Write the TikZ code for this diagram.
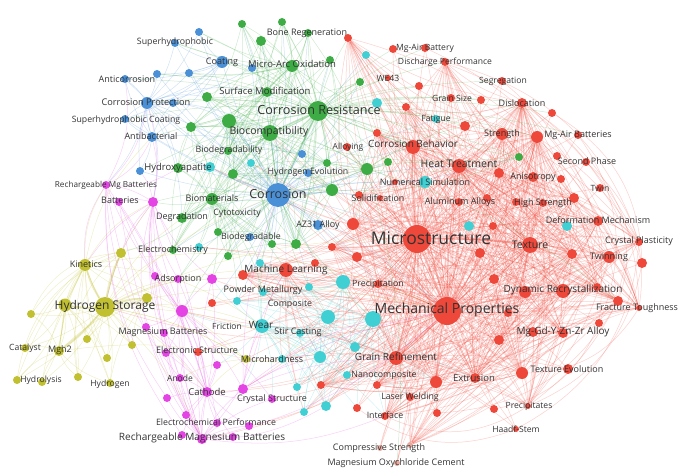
\documentclass[tikz,border=0pt]{standalone}
\usepackage{fontspec}
\setmainfont{Open Sans}
\usetikzlibrary{backgrounds}
\definecolor{vred}{RGB}{238,72,58}
\definecolor{vgreen}{RGB}{62,172,68}
\definecolor{vblue}{RGB}{74,144,214}
\definecolor{vyel}{RGB}{192,192,48}
\definecolor{vmag}{RGB}{228,68,228}
\definecolor{vcyan}{RGB}{64,208,212}
\definecolor{vfade}{RGB}{232,170,160}
\tikzset{
  dot/.style={circle, inner sep=0pt, fill=#1, draw=none},
  e/.style={draw=#1, opacity=0.25, line width=0.5pt},
  thick edge/.style={draw=#1, opacity=0.35, line width=1.6pt},
  lab/.style={inner sep=0pt, text=black!80, font=\fontsize{#1pt}{#1pt}\selectfont}
}
\begin{document}
\begin{tikzpicture}[x=1pt,y=-1pt]
\useasboundingbox (0,0) rectangle (693,473);
% ---------- red nodes
\foreach \n/\x/\y/\d in {
1/417/239/28, 2/447/311/28, 3/530/245/16, 4/563/291/14, 5/525/292/12, 6/597/287/8,
7/563/333/10, 8/533/332/10, 9/499/340/10, 10/522/373/12, 11/568/369/10, 12/475/378/10,
13/436/382/12, 14/396/358/14, 15/377/385/8, 16/410/397/8, 17/357/408/8, 18/385/416/8,
19/437/413/8, 20/494/409/8, 21/528/406/6, 22/516/429/6, 26/618/301/10,
27/639/308/6, 28/599/323/8, 29/508/313/8, 30/639/242/8, 31/609/257/12, 32/642/263/10,
33/572/254/10, 34/480/253/10, 35/494/279/10, 36/378/284/8, 37/357/257/10, 38/598/221/10,
39/493/226/8, 40/600/188/8, 41/574/198/10, 42/543/203/8, 43/516/202/8, 44/459/202/8,
45/487/198/8, 46/533/177/10, 47/561/179/8, 48/499/173/10, 49/557/156/8, 50/586/162/8,
51/459/166/14, 52/413/147/14, 53/347/147/8, 54/377/133/8, 55/465/126/10, 56/502/134/12,
57/537/137/12, 58/578/135/8, 59/552/113/8, 60/522/103/10, 61/481/100/8, 62/451/98/8,
63/406/107/8, 64/419/86/8, 65/502/81/8, 66/445/62/8, 67/393/49/8, 68/425/48/8,
69/348/38/8, 70/388/78/6, 71/395/182/6, 72/359/195/8, 73/380/198/6, 74/353/224/12,
75/332/247/8, 76/315/263/8, 77/286/270/14, 78/243/275/10, 79/212/303/8, 80/198/352/8,
81/321/385/8}
  \node[dot=vred, minimum size=\d*1pt] (r\n) at (\x,\y) {};
\foreach \n/\x/\y/\d in {23/380/448/6, 24/410/445/6, 25/397/463/6}
  \node[dot=vfade, minimum size=\d*1pt] (r\n) at (\x,\y) {};
% ---------- green nodes
\foreach \n/\x/\y/\d in {
1/318/111/20, 2/270/133/16, 3/267/92/10, 4/207/97/10, 5/292/66/12, 6/242/24/8,
7/282/22/8, 8/308/33/8, 9/261/41/10, 10/330/60/8, 11/229/121/14, 12/191/127/10,
13/228/151/8, 14/327/163/8, 15/178/168/10, 16/233/174/10, 17/332/190/12, 18/212/199/12,
19/182/218/10, 20/218/232/8, 21/272/244/8, 22/296/244/10, 23/228/256/8, 24/173/250/8,
25/367/169/12, 26/388/162/8, 27/360/82/8, 28/519/157/8}
  \node[dot=vgreen, minimum size=\d*1pt] (g\n) at (\x,\y) {};
% ---------- blue nodes
\foreach \n/\x/\y/\d in {
1/278/195/24, 2/222/62/12, 3/175/43/8, 4/199/32/8, 5/252/68/8, 6/157/74/8,
7/189/73/8, 8/125/79/8, 9/147/103/12, 10/173/103/8, 11/125/119/8, 12/152/137/10,
13/302/154/8, 14/140/171/8, 15/308/173/8, 16/318/225/10, 17/250/237/8}
  \node[dot=vblue, minimum size=\d*1pt] (b\n) at (\x,\y) {};
% ---------- cyan nodes
\foreach \n/\x/\y/\d in {
1/373/319/16, 2/343/282/14, 3/328/317/14, 4/262/326/14, 5/300/333/8, 6/355/347/10,
7/320/357/12, 8/282/359/8, 9/347/375/8, 10/297/387/8, 11/326/406/10, 12/304/412/8,
13/237/301/8, 14/260/263/8, 15/309/287/8, 16/263/292/8, 17/425/182/12, 18/436/119/8,
19/377/103/10, 20/366/55/8, 21/251/163/8, 22/210/167/10, 23/199/247/8, 24/469/226/10,
25/567/226/10}
  \node[dot=vcyan, minimum size=\d*1pt] (c\n) at (\x,\y) {};
% ---------- magenta nodes
\foreach \n/\x/\y/\d in {
1/106/185/8, 2/119/202/8, 3/153/202/10, 4/155/276/8, 5/178/279/8, 6/212/279/10,
7/182/311/12, 8/146/327/8, 9/164/333/8, 10/166/353/8, 11/217/365/8, 12/180/378/8,
13/167/398/8, 14/207/392/10, 15/243/389/10, 16/272/399/8, 17/186/415/8, 18/217/423/8,
19/249/426/8, 20/182/435/8, 21/202/439/10, 22/233/437/8}
  \node[dot=vmag, minimum size=\d*1pt] (m\n) at (\x,\y) {};
% ---------- yellow nodes
\foreach \n/\x/\y/\d in {
1/105/307/20, 2/65/305/13, 3/147/298/10, 4/85/265/12, 5/121/253/10, 6/31/314/8,
7/87/339/8, 8/132/345/8, 9/25/348/8, 10/59/351/10, 11/107/358/8, 12/78/377/8,
13/17/380/8, 14/42/382/8, 15/110/383/8, 16/246/359/8}
  \node[dot=vyel, minimum size=\d*1pt] (y\n) at (\x,\y) {};

% ---------- edges
\begin{scope}[on background layer]
 % red
 \draw[thick edge=vred] (r1) -- (r2);
 \foreach \t in {r3,r4,r14,r52,r51} \draw[thick edge=vred, line width=1pt] (r2) to[bend left=4] (\t);
 \foreach \t in {r3,r52,r51,r14} \draw[thick edge=vred, line width=1pt] (r1) to[bend left=4] (\t);
 \foreach \i in {3,...,81} {
   \draw[e=vred] (r1) to[bend left=6] (r\i);
   \draw[e=vred] (r2) to[bend right=6] (r\i);
 }
 \foreach \s in {3,4,14,51,52,56,57,12,10,31,7,33,38,46,5,60,41,26,13,74} {
   \foreach \i in {3,...,81} {
     \pgfmathtruncatemacro\k{mod(\i*7+\s*3,3)}
     \ifnum\k=0 \ifnum\i=\s\else \draw[e=vred] (r\s) to[bend left=12] (r\i); \fi\fi
   }
 }
 \foreach \a/\b in {69/27, 67/32, 65/28, 66/30, 68/26, 60/27, 59/32, 58/28, 50/27, 40/26,
   30/22, 32/21, 27/10, 28/20, 26/19, 23/13, 25/12, 24/10, 22/17, 21/18}
   \draw[e=vred] (r\a) to[bend left=28] (r\b);
 \foreach \i in {1,...,25} {
   \draw[e=vred] (r1) to[bend left=8] (c\i);
   \draw[e=vred] (r2) to[bend right=8] (c\i);
 }
 \foreach \t in {g1,g2,g17,g25,g26,g14,b1,b16,b15,g22,g21,m6,m7,y16,m15} {
   \draw[e=vred] (r1) to[bend left=8] (\t);
   \draw[e=vred] (r2) to[bend left=12] (\t);
 }
 \foreach \i in {6,...,22} \draw[e=vred] (r14) to[bend left=8] (r\i);
 \foreach \i in {1,...,12} \draw[e=vred] (r14) to[bend right=8] (c\i);
 \foreach \i in {1,...,16} \draw[e=vred] (r77) to[bend right=8] (c\i);
 \foreach \t in {m14,m21,m16,m19,y1,m7} \draw[e=vred] (r2) to[bend left=16] (\t);
 % green / blue
 \draw[thick edge=vgreen] (g1) -- (b1);
 \draw[thick edge=vgreen] (g1) -- (g2);
 \draw[thick edge=vgreen, line width=1pt] (g2) -- (b1);
 \draw[thick edge=vgreen, line width=1pt] (g1) -- (r52);
 \foreach \i in {53,54,72,73,74,75,76,77,78,36,37,52,51,1,2,71,79} \draw[e=vblue] (b1) to[bend left=6] (r\i);
 \foreach \i in {51,...,70} \draw[e=vgreen] (g1) to[bend left=8] (r\i);
 \foreach \i in {2,...,28} {
   \draw[e=vgreen] (g1) to[bend left=6] (g\i);
   \draw[e=vblue] (b1) to[bend right=6] (g\i);
 }
 \foreach \s in {3,5,11,16,17,18,22,25,12,14} {
   \foreach \i in {2,...,28} {
     \pgfmathtruncatemacro\k{mod(\i*5+\s*2,3)}
     \ifnum\k=0 \ifnum\i=\s\else \draw[e=vgreen] (g\s) to[bend right=12] (g\i); \fi\fi
   }
 }
 \foreach \i in {3,...,24} \draw[e=vgreen] (g2) to[bend right=6] (g\i);
 \foreach \i in {4,...,13} \draw[e=vgreen] (g3) to[bend left=8] (g\i);
 \foreach \i in {12,...,24} \draw[e=vgreen] (g11) to[bend left=8] (g\i);
 \foreach \i in {15,...,24} {\ifnum\i=18\else \draw[e=vgreen] (g18) to[bend right=8] (g\i);\fi}
 \foreach \i in {6,...,13} \draw[e=vgreen] (g5) to[bend right=10] (g\i);
 \foreach \i in {2,...,7} \draw[e=vgreen] (g5) to[bend left=8] (b\i);
 \foreach \t in {c13,c14,c16,r77,r78,m6,m5,c23,y5,m3} \draw[e=vgreen] (g18) to[bend left=12] (\t);
 \foreach \i in {2,...,17} {
   \draw[e=vblue] (b1) to[bend left=6] (b\i);
   \draw[e=vgreen] (g1) to[bend right=8] (b\i);
 }
 \foreach \i in {3,...,12} \draw[e=vblue] (b2) to[bend left=10] (b\i);
 \foreach \i in {3,...,14} {\ifnum\i=9\else \draw[e=vblue] (b9) to[bend right=10] (b\i);\fi}
 \foreach \i in {8,...,14} {\ifnum\i=12\else \draw[e=vblue] (b12) to[bend left=10] (b\i);\fi}
 \foreach \t in {g11,g12,g4,g3,g2,g15,g19,m1,m3} \draw[e=vblue] (b9) to[bend left=14] (\t);
 \foreach \i in {13,...,23} \draw[e=vblue] (b1) to[bend left=6] (c\i);
 \foreach \t in {m5,m6,m3,m7,c4,c3,c2,c1} \draw[e=vgreen] (b1) to[bend right=10] (\t);
 \foreach \t in {r52,r51,r25,r26,r53,r54,r55,r71,r72,r74} \draw[e=vgreen] (g25) to[bend left=10] (\t);
 % cyan
 \foreach \i in {2,...,16} \draw[e=vcyan] (c1) to[bend left=8] (c\i);
 \foreach \i in {4,...,16} \draw[e=vcyan] (c3) to[bend right=8] (c\i);
 \foreach \i in {5,...,16} \draw[e=vcyan] (c2) to[bend left=10] (c\i);
 \foreach \i in {5,...,16} \draw[e=vcyan] (c4) to[bend left=8] (c\i);
 \foreach \i in {8,...,16} \draw[e=vcyan] (c7) to[bend right=12] (c\i);
 \foreach \t in {m11,m15,m16,m6,m7,r14,r15,r17,r18,r81,r13,r16} \draw[e=vcyan] (c4) to[bend left=10] (\t);
 \foreach \t in {r14,r15,r17,r18,r81,r16,r12,r13} \draw[e=vcyan] (c1) to[bend right=8] (\t);
 % magenta
 \foreach \i in {1,...,20,22} \draw[e=vmag] (m21) to[bend left=10] (m\i);
 \foreach \i in {1,...,13,15,16,17,18,19,20,22} \draw[e=vmag] (m14) to[bend right=8] (m\i);
 \foreach \i in {1,...,6,8,9,10,11,12,15,16,18} \draw[e=vmag] (m7) to[bend left=8] (m\i);
 \foreach \t in {m1,m2,m4,m5,m6,m8,m9,m10,y1,y4,y5,b14,b12,b9,m12} \draw[e=vmag] (m3) to[bend right=12] (\t);
 \foreach \t in {b9,b12,b8,g15,m12,m20,m13,y4} \draw[e=vmag] (m1) to[bend right=18] (\t);
 \foreach \t in {c4,r2,c7,r14,r77,b1,c1} \draw[e=vmag] (m15) to[bend left=10] (\t);
 \foreach \t in {c4,r2,c11,r18} \draw[e=vmag] (m21) to[bend right=14] (\t);
 % yellow
 \foreach \t in {y2,y4,y10,y3,y5} \draw[thick edge=vyel] (y1) to[bend left=6] (\t);
 \draw[thick edge=vyel, line width=1pt] (y2) -- (y10);
 \draw[thick edge=vyel, line width=1pt] (y4) -- (y2);
 \foreach \i in {2,...,16} \draw[e=vyel] (y1) to[bend left=10] (y\i);
 \foreach \i in {2,3,5,6,...,15} \draw[e=vyel] (y4) to[bend right=10] (y\i);
 \foreach \i in {6,...,15} \draw[e=vyel] (y2) to[bend left=12] (y\i);
 \foreach \i in {5,7,8,10,11,15} \draw[e=vyel] (y3) to[bend right=12] (y\i);
 \foreach \i in {6,9,12,13,14,15} \draw[e=vyel] (y10) to[bend right=14] (y\i);
 \foreach \t in {m3,m7,m6,c4,b1,r77,r2,r1,m14,m21,c7,g19,g24,m5} \draw[e=vyel] (y1) to[bend left=12] (\t);
 \foreach \t in {m1,m3,b12,g24,c4,r2} \draw[e=vyel] (y4) to[bend left=16] (\t);
 \foreach \t in {y10,y4,m12,m14,y1,c8,c7} \draw[e=vyel] (y16) to[bend right=10] (\t);
 \foreach \t in {y13,y6,y12} \draw[e=vyel] (y5) to[bend right=30] (\t);
\end{scope}

% ---------- labels
\foreach \n/\x/\y/\s/\t in {
1/431/238/17.5/Microstructure,
2/447/310/14/Mechanical Properties,
3/319/110/12.6/Corrosion Resistance,
4/278/194/12.5/Corrosion,
5/105/306/12/Hydrogen Storage,
6/269/132/10.5/Biocompatibility,
7/530/245/10.5/Texture,
8/563/290/10/Dynamic Recrystallization,
9/563/332/10/Mg-Gd-Y-Zn-Zr Alloy,
10/459/164/10.5/Heat Treatment,
11/413/144/10/Corrosion Behavior,
12/396/357/10/Grain Refinement,
13/286/270/10/Machine Learning,
14/265/91/9.5/Surface Modification,
15/292/64/9.5/Micro-Arc Oxidation,
16/261/325/10/Wear,
17/207/392/9.5/Cathode,
18/474/378/9.5/Extrusion,
19/202/438/10.1/Rechargeable Magnesium Batteries,
20/178/168/9.5/Hydroxyapatite,
21/146/102/9.2/Corrosion Protection,
22/86/264/9/Kinetics,
23/60/350/9/Mgh2,
24/609/257/9/Twinning,
25/567/369/9/Texture Evolution,
26/598/220/9/Deformation Mechanism,
27/502/134/9/Strength,
28/212/198/9/Biomaterials,
29/182/217/9/Degradation,
30/127/79/9/Anticorrosion,
31/222/62/9/Coating,
32/272/359/9/Microhardness,
33/175/42/8.8/Superhydrophobic,
34/126/120/8.7/Superhydrophobic Coating,
35/151/136/9/Antibacterial,
36/229/150/8.8/Biodegradability,
37/308/172/8.8/Hydrogen Evolution,
38/237/213/8.8/Cytotoxicity,
39/251/237/8.8/Biodegradable,
40/318/225/9/AZ31 Alloy,
41/106/185/8.2/Rechargeable Mg Batteries,
42/120/200/9/Batteries,
43/173/250/9/Electrochemistry,
44/178/279/9/Adsorption,
45/263/290/9/Powder Metallurgy,
46/290/304/8.8/Composite,
47/227/326/8.5/Friction,
48/298/332/9/Stir Casting,
49/163/332/9/Magnesium Batteries,
50/197/350/9/Electronic Structure,
51/180/378/8.5/Anode,
52/272/399/9/Crystal Structure,
53/216/422/8.8/Electrochemical Performance,
54/25/348/8.6/Catalyst,
55/41/380/8.6/Hydrolysis,
56/110/384/8.6/Hydrogen,
57/384/375/8.8/Nanocomposite,
58/410/397/8.8/Laser Welding,
59/385/415/8.8/Interface,
60/379/448/9/Compressive Strength,
61/396/463/9/Magnesium Oxychloride Cement,
62/529/406/8.6/Precipitates,
63/516/429/8.6/Haadf-Stem,
64/378/284/8.8/Precipitation,
65/637/308/9/Fracture Toughness,
66/639/241/9/Crystal Plasticity,
67/543/203/9/High Strength,
68/460/202/9/Aluminum Alloys,
69/378/198/8.8/Solidification,
70/425/182/9/Numerical Simulation,
71/533/177/9/Anisotropy,
72/587/161/9/Second Phase,
73/600/188/8.6/Twin,
74/578/135/9/Mg-Air Batteries,
75/522/103/9/Dislocation,
76/503/81/8.6/Segregation,
77/452/98/8.6/Grain Size,
78/436/119/8.6/Fatigue,
79/348/147/8.4/Alloying,
80/388/78/8.6/WE43,
81/425/48/8.6/Mg-Air Battery,
82/445/62/8.6/Discharge Performance,
83/307/33/9/Bone Regeneration}
  \node[lab=\s] (l\n) at (\x,\y) {\t};
\end{tikzpicture}
\end{document}
